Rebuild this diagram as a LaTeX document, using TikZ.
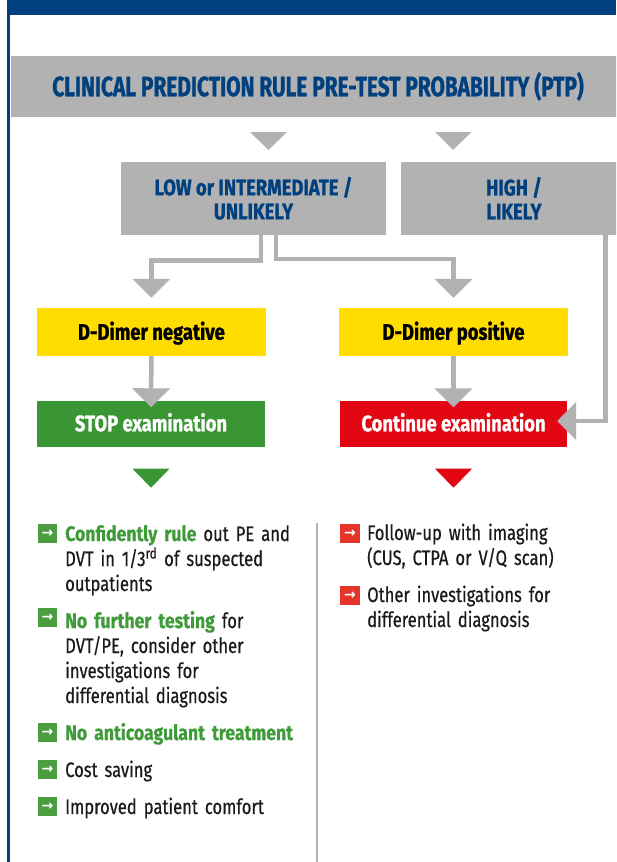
\documentclass[tikz,border=0pt]{standalone}
\usepackage{fontspec}
\setmainfont{Fira Sans}[FakeStretch=0.79, UprightFeatures={FakeBold=0.5}, BoldFeatures={FakeStretch=0.84, FakeBold=0.6}]
\newfontfamily\headfont{Fira Sans}[FakeStretch=0.745, BoldFeatures={FakeBold=1}]
\newfontfamily\boxfont{Fira Sans}[FakeStretch=0.82, BoldFeatures={FakeBold=1}]
\newfontfamily\symfont{DejaVu Sans}
\usetikzlibrary{arrows.meta}
\definecolor{navy}{HTML}{00407F}
\definecolor{bandgray}{HTML}{B2B2B2}
\definecolor{dyellow}{HTML}{FFDD00}
\definecolor{dgreen}{HTML}{3A9634}
\definecolor{tgreen}{HTML}{3F9B3A}
\definecolor{dred}{HTML}{E30613}
\definecolor{bred}{HTML}{E5352B}
\definecolor{bgreen}{HTML}{4A9E40}
\definecolor{bodytext}{HTML}{1A1A1A}
\definecolor{divgray}{HTML}{B5B5B5}
\begin{document}
\begin{tikzpicture}[x=1pt,y=-1pt,
  graybox/.style={fill=bandgray, draw=none, inner sep=0pt, text=navy, align=center},
  catbox/.style={graybox, minimum height=72.5pt, font=\boxfont\bfseries\fontsize{22.5}{24}\selectfont},
  ybox/.style={fill=dyellow, draw=none, inner sep=0pt, minimum width=229pt, minimum height=48pt,
    text=black, font=\boxfont\bfseries\fontsize{22.5}{24}\selectfont, text height=15.5pt, text depth=0pt},
  resbox/.style={draw=none, inner sep=0pt, minimum width=228pt, minimum height=46pt,
    text=white, font=\boxfont\bfseries\fontsize{22.5}{24}\selectfont, text height=15.5pt, text depth=0pt},
  conn/.style={draw=bandgray, line width=4.5pt, line join=miter,
    -{Triangle[width=37pt,length=19pt]}},
  bulletbox/.style={minimum width=19.5pt, minimum height=19.5pt, inner sep=0pt, text=white,
    font=\symfont\bfseries\fontsize{14}{14}\selectfont},
  bulg/.style={bulletbox, fill=bgreen},
  bulr/.style={bulletbox, fill=bred},
  itemtxt/.style={anchor=base west, inner sep=0pt, text width=245pt, align=left, text=bodytext,
    font=\fontsize{21}{25}\selectfont}]
\clip (0,0) rectangle (616,862);
\fill[white] (0,0) rectangle (616,862);
% frame
\fill[navy] (7,0) rectangle (616,15);
\fill[navy] (7,0) rectangle (10,862);
% header band
\node[graybox, minimum width=615pt, minimum height=61pt,
  font=\headfont\bfseries\fontsize{28}{30}\selectfont, text height=19.5pt, text depth=0pt]
  (ptp) at (318,86.5) {CLINICAL PREDICTION RULE PRE-TEST PROBABILITY (PTP)};
% triangles under header
\fill[bandgray] (250,132) -- (287,132) -- (268.5,150) -- cycle;
\fill[bandgray] (435,132) -- (471.5,132) -- (453,150) -- cycle;
% category boxes
\node[catbox, minimum width=265pt] (low) at (253.5,198.25) {LOW or INTERMEDIATE /\\UNLIKELY};
\node[catbox, minimum width=226pt] (high) at (514,198.25) {HIGH /\\LIKELY};
% D-dimer boxes
\node[ybox] (dneg) at (151.4,332) {D-Dimer negative};
\node[ybox] (dpos) at (453.5,332) {D-Dimer positive};
% result boxes
\node[resbox, fill=dgreen] (stop) at (151,423.5) {STOP examination};
\node[resbox, fill=dred, minimum width=227pt] (cont) at (453.5,423.5) {Continue examination};
% connectors
\draw[conn] ([xshift=7.5pt]low.south) -- ++(0,26) -| ([yshift=10pt]dneg.north);
\draw[conn] ([xshift=22.5pt]low.south) -- ++(0,24.5) -| ([yshift=10pt]dpos.north);
\draw[conn] (dneg.south) -- ([yshift=-7pt]stop.north);
\draw[conn] (dpos.south) -- ([yshift=-7pt]cont.north);
\draw[conn] ([xshift=91.5pt]high.south) |- ([xshift=-10pt,yshift=2.5pt]cont.east);
% triangles under results
\fill[dgreen] ([yshift=-22pt]stop.south) ++(-18.5,0) -- ++(37,0) -- ++(-18.5,19) -- cycle;
\fill[dred] ([yshift=-22pt]cont.south) ++(-18.5,0) -- ++(37,0) -- ++(-18.5,19) -- cycle;
% divider
\draw[divgray, line width=1.2pt] (317,523) -- (317,862);
% left list
\node[bulg] (g1) at (47.5,533.5) {→};
\node[itemtxt] (tg1) at (65,541) {\textbf{\color{tgreen}Confidently rule} out PE and\\DVT in 1/3\textsuperscript{rd} of suspected\\outpatients};
\node[bulg] (g2) at (47.5,617.5) {→};
\node[itemtxt] (tg2) at (65,628) {\textbf{\color{tgreen}No further testing} for\\DVT/PE, consider other\\investigations for\\differential diagnosis};
\node[bulg] (g3) at (47.5,732.5) {→};
\node[itemtxt] (tg3) at (65,740) {\textbf{\color{tgreen}No anticoagulant treatment}};
\node[bulg] (g4) at (47.5,769.5) {→};
\node[itemtxt] (tg4) at (65,777) {Cost saving};
\node[bulg] (g5) at (47.5,806.5) {→};
\node[itemtxt] (tg5) at (65,814) {Improved patient comfort};
% right list
\node[bulr] (r1) at (350,533.5) {→};
\node[itemtxt] (tr1) at (367,540) {Follow-up with imaging\\(CUS, CTPA or V/Q scan)};
\node[bulr] (r2) at (350,595.5) {→};
\node[itemtxt] (tr2) at (367,602) {Other investigations for\\differential diagnosis};
\end{tikzpicture}
\end{document}
